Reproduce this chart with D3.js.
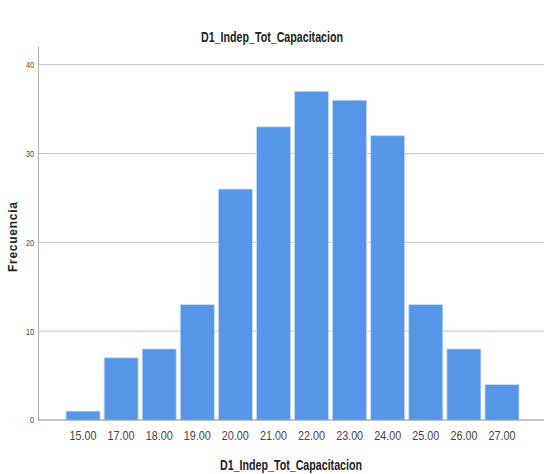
<!DOCTYPE html>
<html>
<head>
<meta charset="utf-8">
<script src="https://cdn.jsdelivr.net/npm/d3@7"></script>
<style>
  body { margin: 0; background: #fff; }
  svg { display: block; }
</style>
</head>
<body>
<svg id="chart" width="544" height="474"></svg>
<script>
const categories = ["15.00","17.00","18.00","19.00","20.00","21.00","22.00","23.00","24.00","25.00","26.00","27.00"];
const frequencies = [1, 7, 8, 13, 26, 33, 37, 36, 32, 13, 8, 4];
const yTicks = [0, 10, 20, 30, 40];
const chartTitle = "D1_Indep_Tot_Capacitacion";
const xTitle = "D1_Indep_Tot_Capacitacion";
const yTitle = "Frecuencia";

const W = 544, H = 474;
const axisX = 38, plotRight = 544, baseY = 420, topY = 46;
const font = "'Liberation Sans', Arial, sans-serif";

const svg = d3.select("#chart");

const x = d3.scaleBand().domain(categories).range([66, 519]).paddingInner(0.107).paddingOuter(0);
const y = d3.scaleLinear().domain([0, 42.1]).range([baseY, topY]);

// gridlines
svg.append("g")
  .selectAll("line")
  .data(yTicks.filter(d => d > 0))
  .join("line")
  .attr("x1", axisX).attr("x2", plotRight)
  .attr("y1", d => y(d)).attr("y2", d => y(d))
  .attr("stroke", "#c8c8c8").attr("stroke-width", 1);

// bars
svg.append("g")
  .selectAll("rect")
  .data(frequencies)
  .join("rect")
  .attr("x", (d, i) => x(categories[i]))
  .attr("y", d => y(d))
  .attr("width", x.bandwidth())
  .attr("height", d => y(0) - y(d))
  .attr("fill", "#5596e6")
  .attr("stroke", "#c6dcf6")
  .attr("stroke-width", 0.8);

// y axis
const yAxis = d3.axisLeft(y).tickValues(yTicks).tickSize(0).tickPadding(4).tickFormat(d3.format("d"));
const gy = svg.append("g").attr("transform", `translate(${axisX},0)`).call(yAxis);
gy.select(".domain").attr("stroke", "#b0b0b0");
gy.selectAll("text").attr("font-family", font).attr("font-size", 9).attr("fill", "#444")
  .attr("textLength", 8).attr("lengthAdjust", "spacingAndGlyphs");
gy.selectAll("text").filter(d => d === 0).attr("textLength", 4);

// x axis
const xAxis = d3.axisBottom(x).tickSize(0).tickPadding(11);
const gx = svg.append("g").attr("transform", `translate(0,${baseY})`).call(xAxis);
gx.select(".domain").remove();
gx.selectAll("text").attr("font-family", font).attr("font-size", 13).attr("fill", "#444")
  .attr("textLength", 27).attr("lengthAdjust", "spacingAndGlyphs");
svg.append("line").attr("x1", axisX).attr("x2", plotRight).attr("y1", baseY).attr("y2", baseY)
  .attr("stroke", "#8c8c8c").attr("stroke-width", 1.2);

// titles
svg.append("text").attr("x", W / 2).attr("y", 42).attr("text-anchor", "middle")
  .attr("font-family", font).attr("font-size", 14).attr("font-weight", "bold").attr("fill", "#222")
  .attr("textLength", 142).attr("lengthAdjust", "spacingAndGlyphs")
  .text(chartTitle);
svg.append("text").attr("x", (axisX + plotRight) / 2).attr("y", 470).attr("text-anchor", "middle")
  .attr("font-family", font).attr("font-size", 14).attr("font-weight", "bold").attr("fill", "#222")
  .attr("textLength", 142).attr("lengthAdjust", "spacingAndGlyphs")
  .text(xTitle);
svg.append("text").attr("transform", `translate(17,237) rotate(-90)`)
  .attr("text-anchor", "middle")
  .attr("font-family", font).attr("font-size", 12).attr("font-weight", "bold")
  .attr("fill", "#222")
  .attr("textLength", 70).attr("lengthAdjust", "spacing")
  .text(yTitle);
</script>
</body>
</html>
